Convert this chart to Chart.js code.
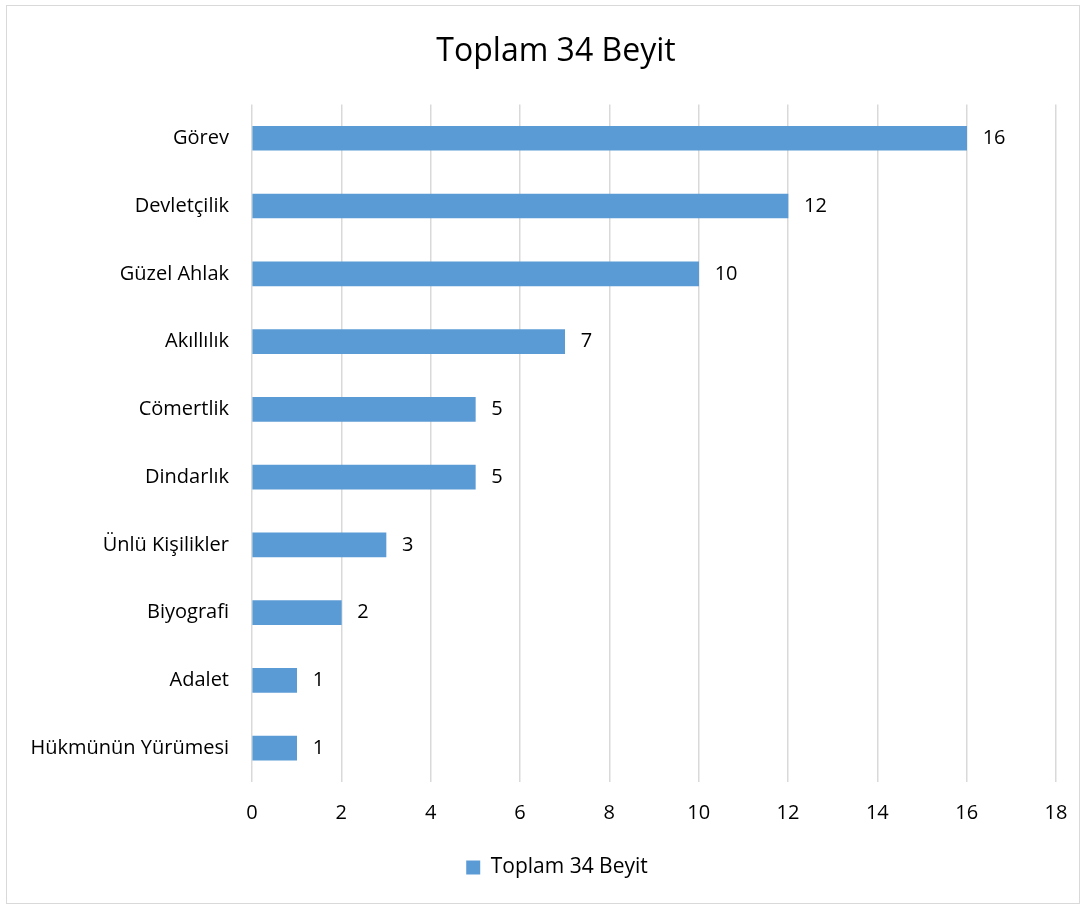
<!DOCTYPE html>
<html>
<head>
<meta charset="utf-8">
<script src="https://cdn.jsdelivr.net/npm/chart.js@4"></script>
<style>
	html, body {margin: 0; padding: 0; background: #fff;}
	#wrap {position: relative; width: 1088px; height: 907px;}
	#frame {position: absolute; left: 6px; top: 5px; width: 1074px; height: 899px; border: 1px solid #d9d9d9; box-sizing: border-box; pointer-events: none;}
	canvas {position: absolute; left: 0; top: 0;}
</style>
</head>
<body>
<div id="wrap">
	<canvas id="chart" width="1088" height="907"></canvas>
	<div id="frame"></div>
</div>
<script>
'use strict';

const categories = ['Görev', 'Devletçilik', 'Güzel Ahlak', 'Akıllılık', 'Cömertlik', 'Dindarlık', 'Ünlü Kişilikler', 'Biyografi', 'Adalet', 'Hükmünün Yürümesi'];
const values = [16, 12, 10, 7, 5, 5, 3, 2, 1, 1];
const seriesName = 'Toplam 34 Beyit';
const xMax = 18;
const xStep = 2;

const fontFamily = '"Open Sans", Lato, sans-serif';

// draws the value next to the end of each bar
const barLabels = {
	id: 'barLabels',
	afterDatasetsDraw(chart) {
		const {ctx} = chart;
		const meta = chart.getDatasetMeta(0);
		ctx.save();
		ctx.font = '20px ' + fontFamily;
		ctx.fillStyle = '#000';
		ctx.textAlign = 'left';
		ctx.textBaseline = 'middle';
		meta.data.forEach((bar, i) => {
			ctx.fillText(String(values[i]), bar.x + 16, bar.y);
		});
		ctx.restore();
	},
};

// title and legend in the original sit a bit right of the canvas centre
const centreShift = {
	id: 'centreShift',
	afterLayout(chart) {
		chart.legend.left += 29;
		chart.legend.right += 29;
		chart.titleBlock.left += 28;
		chart.titleBlock.right += 28;
	},
};

const ctx = document.getElementById('chart').getContext('2d');
const myChart = new Chart(ctx, {
	type: 'bar',
	data: {
		labels: categories,
		datasets: [{
			label: seriesName,
			data: values,
			backgroundColor: '#5B9BD5',
			borderWidth: 0,
			barThickness: 24,
		}],
	},
	options: {
		indexAxis: 'y',
		responsive: false,
		animation: false,
		layout: {
			padding: {left: 0, right: 32, top: 0, bottom: 19},
		},
		scales: {
			x: {
				min: 0,
				max: xMax,
				ticks: {
					stepSize: xStep,
					color: '#000',
					padding: 19,
					font: {family: fontFamily, size: 20},
				},
				grid: {
					color: '#d9d9d9',
					lineWidth: 1.5,
					drawTicks: false,
				},
				border: {display: false},
				afterFit: scale => {scale.height = 65;},
			},
			y: {
				ticks: {
					color: '#000',
					padding: 15,
					font: {family: fontFamily, size: 20},
				},
				grid: {display: false},
				border: {display: false},
				afterFit: scale => {scale.width = 252;},
			},
		},
		plugins: {
			title: {
				display: true,
				text: seriesName,
				color: '#000',
				font: {family: fontFamily, size: 32, weight: 'normal'},
				padding: {top: 33, bottom: 33},
			},
			legend: {
				position: 'bottom',
				labels: {
					color: '#000',
					boxWidth: 14,
					boxHeight: 14,
					padding: 10,
					font: {family: fontFamily, size: 21},
				},
			},
			tooltip: {enabled: false},
		},
	},
	plugins: [barLabels, centreShift],
});
</script>
</body>
</html>
